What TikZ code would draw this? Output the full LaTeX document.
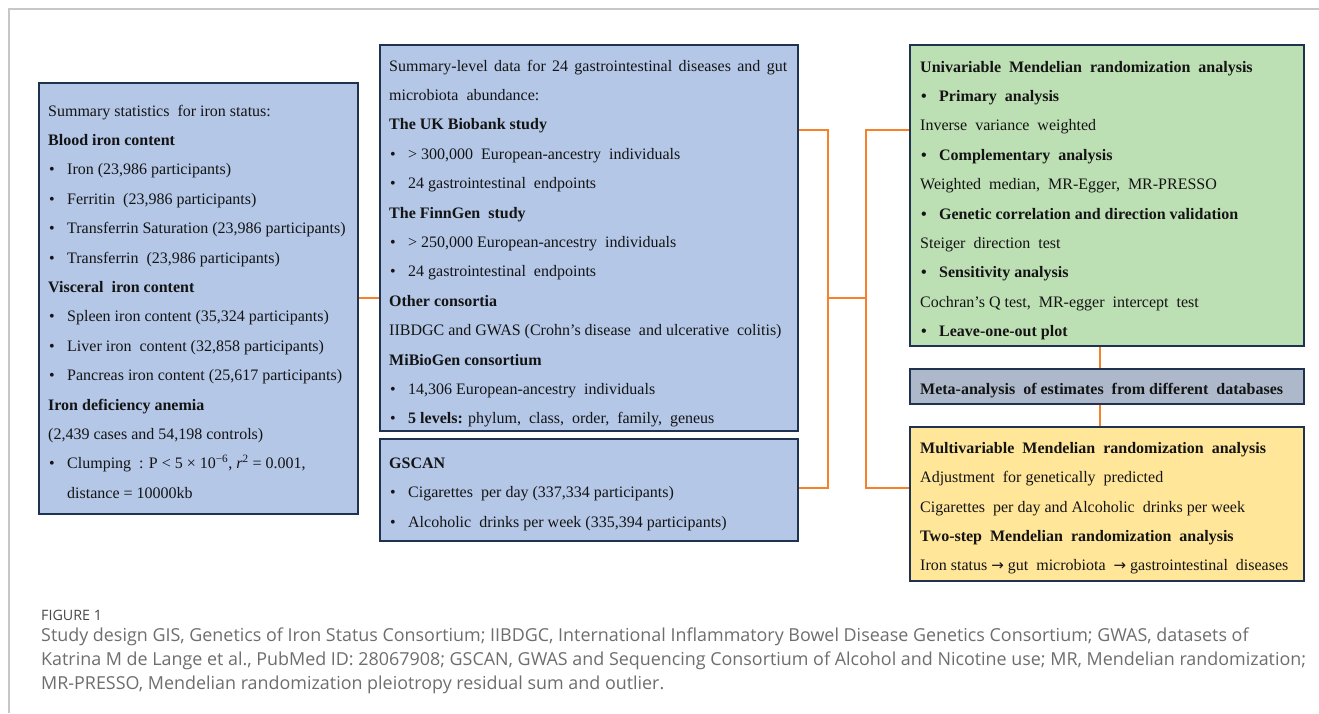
\documentclass[tikz,border=0pt]{standalone}
\usepackage{fontspec}
\setmainfont{Liberation Serif}
\newfontfamily\capfont{Open Sans}
\newfontfamily\arrfont{DejaVu Sans}
\definecolor{bblue}{HTML}{B4C7E7}
\definecolor{bgreen}{HTML}{BDDFB4}
\definecolor{bmeta}{HTML}{ADB9CA}
\definecolor{byellow}{HTML}{FFE699}
\definecolor{bnavy}{HTML}{1F3250}
\definecolor{corange}{HTML}{F5822A}
\definecolor{capgray}{HTML}{6E6E6E}
\newcommand{\bu}{\llap{\makebox[18pt][l]{•}}}
\newcommand{\rarr}{{\arrfont\fontsize{15}{19}\selectfont →}}
\begin{document}
\begin{tikzpicture}[x=1pt,y=-1pt,
  box/.style={draw=bnavy, line width=1.7pt, anchor=north west, inner sep=0pt, rectangle},
  conn/.style={draw=corange, line width=1.8pt},
  txt/.style={anchor=base west, inner sep=0pt, font=\fontsize{16}{19}\selectfont, text=black!92},
  btxt/.style={txt, font=\fontsize{16}{19}\selectfont\bfseries},
  captxt/.style={anchor=base west, inner sep=0pt, text=capgray, font=\capfont\fontsize{17.9}{21}\selectfont},
  frame/.style={draw=black!22, line width=1.2pt}]
\useasboundingbox (0,0) rectangle (1319,713);
\fill[white] (0,0) rectangle (1319,713);
\coordinate (f0) at (9,713);
\coordinate (f1) at (9,9);
\coordinate (f2) at (1319,9);
\draw[frame] (f0) -- (f1) -- (f2);

% boxes
\node[box, fill=bblue, minimum width=319pt, minimum height=431pt] (L) at (38,82) {};
\node[box, fill=bblue, minimum width=418pt, minimum height=386pt] (M1) at (379,44) {};
\node[box, fill=bblue, minimum width=418pt, minimum height=102pt] (M2) at (379,438) {};
\node[box, fill=bgreen, minimum width=394pt, minimum height=301pt] (G) at (909,44) {};
\node[box, fill=bmeta, minimum width=394pt, minimum height=35pt] (Meta) at (909,368) {};
\node[box, fill=byellow, minimum width=394pt, minimum height=154pt] (Y) at (909,426) {};

% connectors
\coordinate (b1) at (828,130);
\coordinate (b2) at (828,488);
\coordinate (r1) at (866,130);
\coordinate (r2) at (866,488);
\coordinate (v) at (1100,0);
\draw[conn] (L.east) -- (L.east -| M1.west);
\draw[conn] (b1 -| M1.east) -- (b1) -- (b2) -- (b2 -| M2.east);
\draw[conn] (b1 |- L.east) -- (r1 |- L.east);
\draw[conn] (r1 -| G.west) -- (r1) -- (r2) -- (r2 -| Y.west);
\draw[conn] (v |- G.south) -- (v |- Meta.north);
\draw[conn] (v |- Meta.south) -- (v |- Y.north);

% left box text
\node[txt] (L0) at (48,116) {Summary statistics\ \ for iron status:};
\node[btxt] (L1) at (48,145.4) {Blood iron content};
\node[txt] (L2) at (67,174.8) {\bu Iron (23,986 participants)};
\node[txt] (L3) at (67,204.2) {\bu Ferritin\ \ (23,986 participants)};
\node[txt] (L4) at (67,233.6) {\bu Transferrin Saturation (23,986 participants)};
\node[txt] (L5) at (67,263) {\bu Transferrin\ \ (23,986 participants)};
\node[btxt] (L6) at (48,292.4) {Visceral\ \ iron content};
\node[txt] (L7) at (67,321.8) {\bu Spleen iron content (35,324 participants)};
\node[txt] (L8) at (67,351.2) {\bu Liver iron\ \ content (32,858 participants)};
\node[txt] (L9) at (67,380.6) {\bu Pancreas iron content (25,617 participants)};
\node[btxt] (L10) at (48,410) {Iron deficiency anemia};
\node[txt] (L11) at (48,439.4) {(2,439 cases and 54,198 controls)};
\node[txt] (L12) at (67,468.8) {\bu Clumping\ \ : P < 5 × 10\textsuperscript{−6}, \textit{r}\textsuperscript{2} = 0.001,};
\node[txt] (L13) at (67,498.2) {distance = 10000kb};

% middle top box text
\node[txt] (M0) at (389,71) {\makebox[398pt][s]{Summary-level data for 24 gastrointestinal diseases and gut}};
\node[txt] (M1a) at (389,100.4) {microbiota\ \ abundance:};
\node[btxt] (M2a) at (389,129.8) {The UK Biobank study};
\node[txt] (M3) at (408,159.2) {\bu > 300,000\ \ European-ancestry\ \ individuals};
\node[txt] (M4) at (408,188.6) {\bu 24 gastrointestinal\ \ endpoints};
\node[btxt] (M5) at (389,218) {The FinnGen\ \ study};
\node[txt] (M6) at (408,247.4) {\bu > 250,000 European-ancestry\ \ individuals};
\node[txt] (M7) at (408,276.8) {\bu 24 gastrointestinal\ \ endpoints};
\node[btxt] (M8) at (389,306.2) {Other consortia};
\node[txt] (M9) at (389,335.6) {IIBDGC and GWAS (Crohn’s disease\ \ and ulcerative\ \ colitis)};
\node[btxt] (M10) at (389,365) {MiBioGen consortium};
\node[txt] (M11) at (408,394.4) {\bu 14,306 European-ancestry\ \ individuals};
\node[txt] (M12) at (408,423.8) {\bu \textbf{5 levels:} phylum,\ \ class,\ \ order,\ \ family,\ \ geneus};

% GSCAN box text
\node[btxt] (S0) at (389,468.5) {GSCAN};
\node[txt] (S1) at (408,497.9) {\bu Cigarettes\ \ per day (337,334 participants)};
\node[txt] (S2) at (408,527.3) {\bu Alcoholic\ \ drinks per week (335,394 participants)};

% green box text
\node[btxt] (G0) at (920,72) {Univariable\ \ Mendelian\ \ randomization\ \ analysis};
\node[btxt] (G1) at (939,101.4) {\bu Primary\ \ analysis};
\node[txt] (G2) at (920,130.8) {Inverse\ \ variance\ \ weighted};
\node[btxt] (G3) at (939,160.2) {\bu Complementary\ \ analysis};
\node[txt] (G4) at (920,189.6) {Weighted\ \ median,\ \ MR-Egger,\ \ MR-PRESSO};
\node[btxt] (G5) at (939,219) {\bu Genetic correlation and direction validation};
\node[txt] (G6) at (920,248.4) {Steiger\ \ direction\ \ test};
\node[btxt] (G7) at (939,277.8) {\bu Sensitivity analysis};
\node[txt] (G8) at (920,307.2) {Cochran’s Q test,\ \ MR-egger\ \ intercept\ \ test};
\node[btxt] (G9) at (939,336.6) {\bu Leave-one-out plot};

% meta box text
\node[btxt] (T0) at (920,394.5) {Meta-analysis\ \ of estimates\ \ from different\ \ databases};

% yellow box text
\node[btxt] (Y0) at (920,453.2) {Multivariable\ \ Mendelian\ \ randomization\ \ analysis};
\node[txt] (Y1) at (920,482.6) {Adjustment\ \ for genetically\ \ predicted};
\node[txt] (Y2) at (920,512) {Cigarettes\ \ per day and Alcoholic\ \ drinks per week};
\node[btxt] (Y3) at (920,541.4) {Two-step\ \ Mendelian\ \ randomization\ \ analysis};
\node[txt] (Y4) at (920,570.8) {Iron status \rarr{} gut\ \ microbiota\ \ \rarr{} gastrointestinal\ \ diseases};

% caption
\node[captxt, font=\capfont\fontsize{14.3}{16}\selectfont, text=black!72] (C0) at (41,620) {FIGURE 1};
\node[captxt] (C1) at (41,641.5) {Study design GIS, Genetics of Iron Status Consortium; IIBDGC, International Inflammatory Bowel Disease Genetics Consortium; GWAS, datasets of};
\node[captxt] (C2) at (41,665.5) {Katrina M de Lange et al., PubMed ID: 28067908; GSCAN, GWAS and Sequencing Consortium of Alcohol and Nicotine use; MR, Mendelian randomization;};
\node[captxt] (C3) at (41,689.5) {MR-PRESSO, Mendelian randomization pleiotropy residual sum and outlier.};
\end{tikzpicture}
\end{document}
